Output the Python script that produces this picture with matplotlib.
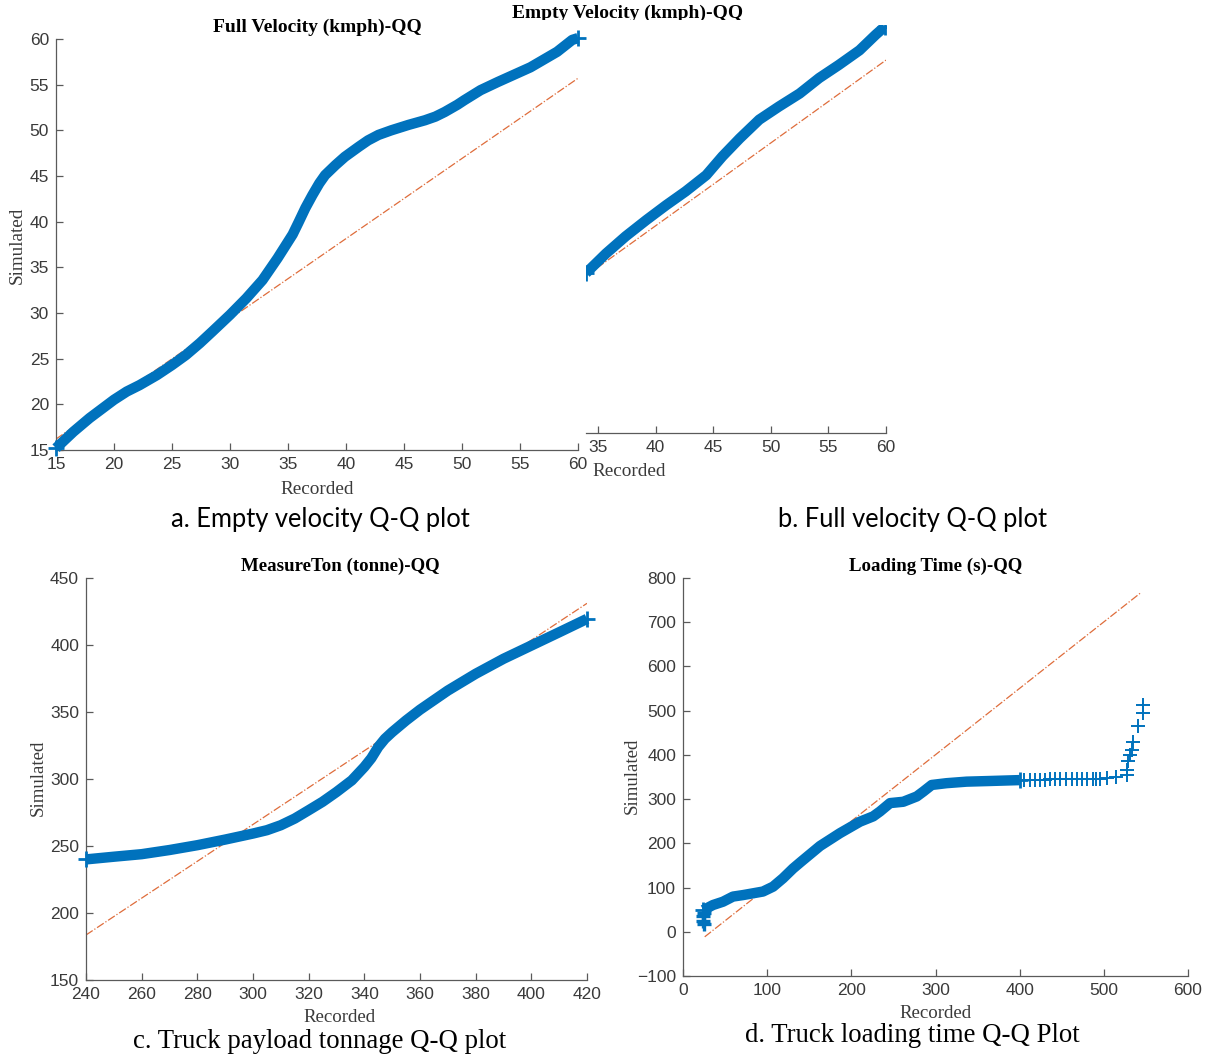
import matplotlib
matplotlib.use("Agg")
import matplotlib.pyplot as plt
from matplotlib.patches import Rectangle

W, H, DPI = 1208, 1057, 100
BLUE = "#0072BD"
ORANGE = "#D95319"
AXC = "#5a5a5a"
TXC = "#3a3a3a"

# ---------------- data ----------------
# a. Full velocity (kmph) Q-Q
a_recorded = [15.0, 16.5, 17.9, 20.0, 21.1, 22.2, 23.7, 25.0, 26.2, 27.4, 28.5, 30.0, 31.4,
              32.8, 34.1, 35.4, 35.9, 36.5, 37.1, 37.7, 38.2, 39.1, 39.9, 41.1, 41.9,
              42.8, 43.9, 45.4, 46.8, 47.7, 48.5, 49.6, 50.2, 51.6, 53.1, 55.9, 58.2, 59.5, 60.0]
a_simulated = [15.2, 17.0, 18.5, 20.5, 21.4, 22.1, 23.2, 24.3, 25.4, 26.7, 28.0, 29.8, 31.6,
               33.6, 36.0, 38.6, 39.9, 41.5, 42.9, 44.2, 45.1, 46.2, 47.1, 48.2, 48.9,
               49.5, 50.0, 50.6, 51.1, 51.5, 52.0, 52.8, 53.3, 54.4, 55.3, 56.9, 58.6, 59.9, 60.1]
a_ref_x = [15, 60]
a_ref_y = [16.2, 55.7]

# b. Empty velocity (kmph) Q-Q
b_recorded = [33.96, 35.7, 37.4, 39.2, 40.9, 42.6, 44.4, 45.8, 47.3, 49.0, 50.7, 52.5,
              54.2, 55.9, 57.7, 59.1, 59.9]
b_simulated = [34.6, 37.0, 39.1, 41.1, 42.9, 44.6, 46.6, 48.9, 51.1, 53.4, 55.0, 56.6,
               58.5, 60.1, 61.9, 63.8, 64.8]
b_ref_x = [34, 60]
b_ref_y = [34.3, 60.7]

# c. MeasureTon (tonne) Q-Q
c_recorded = [240, 250, 260, 270, 280, 290, 300, 305, 310, 315, 320, 325, 330, 335.5, 340,
              342.5, 345, 347.4, 350, 355, 360, 370, 380, 390, 400, 410, 420]
c_simulated = [240, 242, 243.9, 247, 250.6, 254.8, 259.3, 261.8, 265.5, 270.5, 276.7, 283,
               290.3, 299, 309, 315.5, 323.9, 330, 335, 343.7, 351.7, 366, 378.5, 389.7, 399.6,
               409.5, 419.5]
c_ref_x = [240, 420]
c_ref_y = [183.6, 431.1]

# d. Loading time (s) Q-Q
d_recorded = [24, 35.6, 47.5, 59.4, 71.3, 83.2, 95, 107, 118.8, 130.7, 140, 162.8, 186.5,
              210.3, 226, 234, 246, 261.7, 277.7, 285.5, 295.5, 313, 337, 365, 400]
d_simulated = [49, 60.5, 68, 79.6, 83, 87, 91, 102, 121, 143, 158, 194, 223,
               249, 261, 272, 291, 294, 306, 317, 332, 336, 339.5, 341, 343]
d_start_recorded = [24, 24, 25, 25]
d_start_simulated = [25, 35, 42, 17]
d_tail_recorded = [405, 412, 418, 424, 430, 436, 442, 448, 455, 462, 468, 474, 480, 487,
                   491, 496, 504, 515, 527, 527, 529, 531, 533, 535, 541, 546, 546]
d_tail_simulated = [343, 344, 344, 344, 344, 345, 345, 345, 345, 345, 345, 345, 345, 345,
                    345, 345, 347, 349, 354, 366, 387, 400, 410, 430, 465, 494, 513]
d_ref_x = [25.8, 544.6]
d_ref_y = [-11.4, 767.7]

a_xticks = [15, 20, 25, 30, 35, 40, 45, 50, 55, 60]
a_yticks = [15, 20, 25, 30, 35, 40, 45, 50, 55, 60]
b_xticks = [35, 40, 45, 50, 55, 60]
c_xticks = [240, 260, 280, 300, 320, 340, 360, 380, 400, 420]
c_yticks = [150, 200, 250, 300, 350, 400, 450]
d_xticks = [0, 100, 200, 300, 400, 500, 600]
d_yticks = [-100, 0, 100, 200, 300, 400, 500, 600, 700, 800]

titles = ["Full Velocity (kmph)-QQ", "Empty Velocity (kmph)-QQ",
          "MeasureTon (tonne)-QQ", "Loading Time (s)-QQ"]
captions = ["a. Empty velocity Q-Q plot", "b. Full velocity Q-Q plot",
            "c. Truck payload tonnage Q-Q plot", "d. Truck loading time Q-Q Plot"]

# ---------------- figure ----------------
plt.rcParams['font.family'] = ['Liberation Sans', 'DejaVu Sans']
fig = plt.figure(figsize=(W / DPI, H / DPI), dpi=DPI)
SERIF = ['Liberation Serif', 'DejaVu Serif']
CAPSANS = ['Lato', 'DejaVu Sans']


def box(l, t, r, b):
    return [l / W, 1 - b / H, (r - l) / W, (b - t) / H]


def ft(x, y, s, **kw):
    kw.setdefault('ha', 'center')
    kw.setdefault('va', 'center')
    return fig.text(x / W, 1 - y / H, s, **kw)


def style(ax, xlim, ylim, xticks, yticks, left=True):
    ax.set_xlim(*xlim)
    ax.set_ylim(*ylim)
    ax.set_xticks(xticks)
    for s in ['top', 'right']:
        ax.spines[s].set_visible(False)
    for s in ['left', 'bottom']:
        ax.spines[s].set_color(AXC)
        ax.spines[s].set_linewidth(0.9)
    if left:
        ax.set_yticks(yticks)
    else:
        ax.spines['left'].set_visible(False)
        ax.set_yticks([])
    ax.tick_params(direction='in', length=5, width=0.9, colors=AXC,
                   labelcolor=TXC, labelsize=12.5, pad=5)
    ax.patch.set_alpha(0)


def band(ax, x, y, lw=7.5, clip=False):
    ax.plot(x, y, '-', color=BLUE, lw=lw, solid_capstyle='butt', solid_joinstyle='round',
            clip_on=clip, zorder=3)
    ax.plot([x[0], x[-1]], [y[0], y[-1]], '+', color=BLUE, ms=11, mew=2.0,
            clip_on=clip, zorder=3)


def refline(ax, x, y):
    ax.plot(x, y, linestyle='-.', color=ORANGE, lw=0.9, alpha=0.85, zorder=2)


# Panel a
axa = fig.add_axes(box(56, 39, 578, 450))
style(axa, (15, 60), (15, 60), a_xticks, a_yticks)
refline(axa, a_ref_x, a_ref_y)
band(axa, a_recorded, a_simulated)

# Panel b (cropped)
axb = fig.add_axes(box(586, 25, 886, 433))
style(axb, (33.96, 60), (15, 65), b_xticks, [], left=False)
refline(axb, b_ref_x, b_ref_y)
band(axb, b_recorded, b_simulated, clip=True)

# Panel c
axc = fig.add_axes(box(86, 578, 587, 980))
style(axc, (240, 420), (150, 450), c_xticks, c_yticks)
refline(axc, c_ref_x, c_ref_y)
band(axc, c_recorded, c_simulated)

# Panel d
axd = fig.add_axes(box(683, 578, 1188, 976))
style(axd, (0, 600), (-100, 800), d_xticks, d_yticks)
refline(axd, d_ref_x, d_ref_y)
band(axd, d_recorded, d_simulated, lw=7.5)
axd.plot(d_start_recorded, d_start_simulated, '+', color=BLUE, ms=10, mew=2.4, zorder=3)
axd.plot(d_tail_recorded, d_tail_simulated, '+', color=BLUE, ms=10, mew=1.4, zorder=3,
         clip_on=False)

# Titles
ft(317, 27, titles[0], family=SERIF, weight='bold', fontsize=14, color='black')
tb = ft(628, 13, titles[1], family=SERIF, weight='bold', fontsize=14, color='black')
clip_rect = Rectangle((0, 1 - 20 / H), 1, 20 / H, transform=fig.transFigure,
                      facecolor='none', edgecolor='none')
fig.patches.append(clip_rect)
tb.set_clip_path(clip_rect)
tb.set_clip_on(True)
ft(340, 566, titles[2], family=SERIF, weight='bold', fontsize=13.6, color='black')
ft(936, 566, titles[3], family=SERIF, weight='bold', fontsize=13.6, color='black')

# Axis labels
ft(317, 490, "Recorded", family=SERIF, fontsize=13.8, color=TXC)
ft(17, 245, "Simulated", family=SERIF, fontsize=13.8, color=TXC, rotation=90)
ft(592, 472, "Recorded", family=SERIF, fontsize=13.8, color=TXC, ha='left')
ft(340, 1018, "Recorded", family=SERIF, fontsize=13.6, color=TXC)
ft(38, 778, "Simulated", family=SERIF, fontsize=13.6, color=TXC, rotation=90)
ft(936, 1013, "Recorded", family=SERIF, fontsize=13.6, color=TXC)
ft(632, 776, "Simulated", family=SERIF, fontsize=13.6, color=TXC, rotation=90)

# Captions
ft(320, 520, captions[0], family=CAPSANS, fontsize=18.4, color='black')
ft(912, 520, captions[1], family=CAPSANS, fontsize=18.4, color='black')
ft(320, 1041, captions[2], family=SERIF, fontsize=19.3, color='black')
ft(912, 1036, captions[3], family=SERIF, fontsize=19.3, color='black')

fig.savefig("out.png", dpi=DPI)
